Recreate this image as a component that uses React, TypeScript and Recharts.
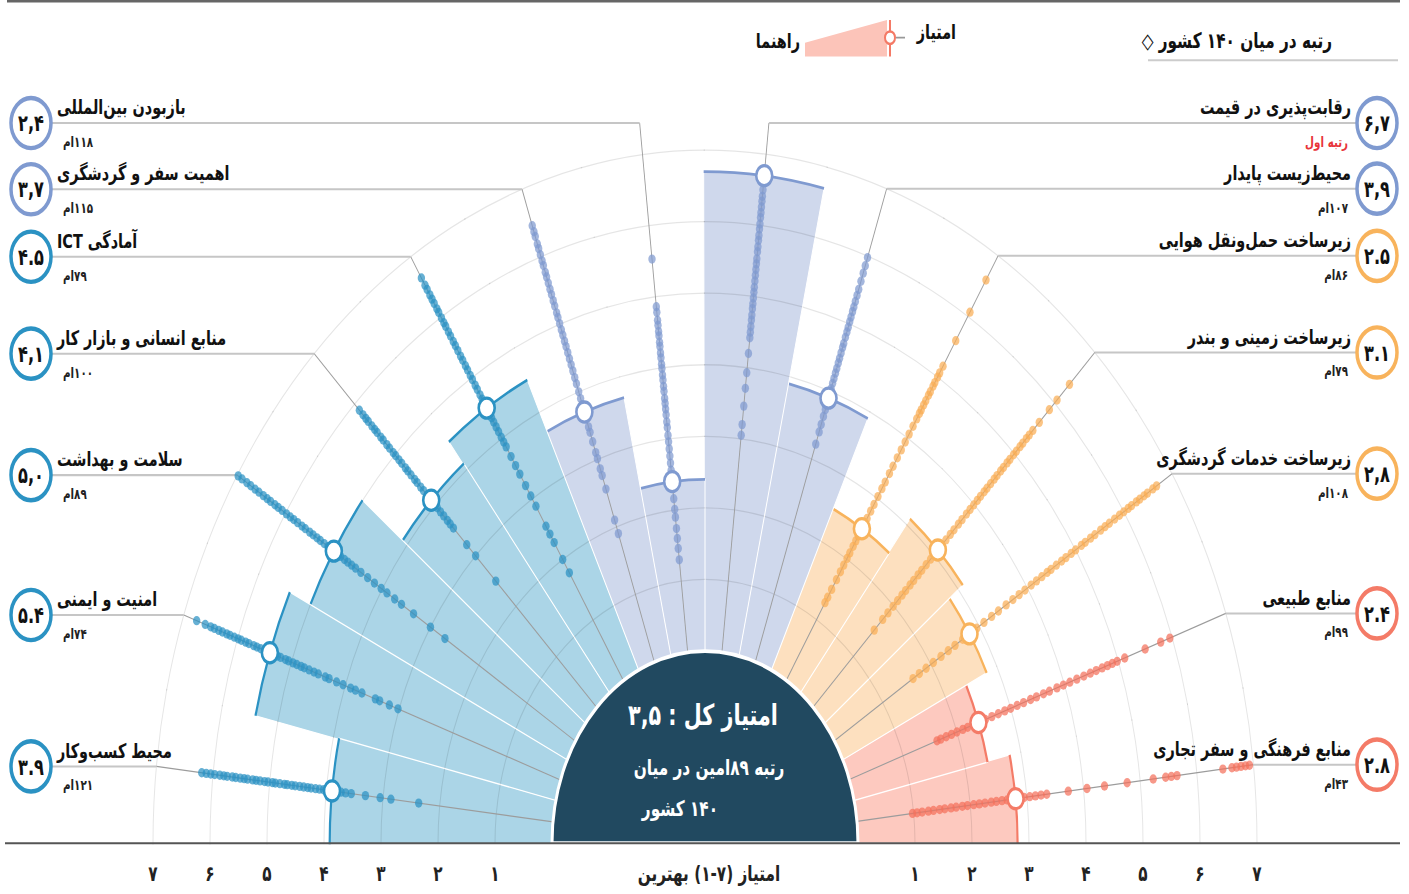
import { RadialBarChart, RadialBar, PolarAngleAxis, PolarRadiusAxis, Legend, Sector } from 'recharts';

// pillars from the bottom-left, going over the top to the bottom-right
const pillars = [
  'محیط کسب‌وکار', 'امنیت و ایمنی', 'سلامت و بهداشت', 'منابع انسانی و بازار کار', 'آمادگی ICT',
  'اهمیت سفر و گردشگری', 'بازبودن بین‌المللی', 'رقابت‌پذیری در قیمت', 'محیط‌زیست پایدار',
  'زیرساخت حمل‌ونقل هوایی', 'زیرساخت زمینی و بندر', 'زیرساخت خدمات گردشگری', 'منابع طبیعی',
  'منابع فرهنگی و سفر تجاری',
];
const scores = [3.9, 5.4, 5.0, 4.1, 4.5, 3.7, 2.4, 6.7, 3.9, 2.5, 3.1, 2.8, 2.4, 2.8];
const scoreText = ['۳.۹', '۵.۴', '۵,۰', '۴,۱', '۴.۵', '۳,۷', '۲,۴', '۶,۷', '۳,۹', '۲.۵', '۳.۱', '۲,۸', '۲.۴', '۲.۸'];
const rankText = ['۱۲۱ام', '۷۴ام', '۸۹ام', '۱۰۰ام', '۷۹ام', '۱۱۵ام', '۱۱۸ام', 'رتبه اول', '۱۰۷ام', '۸۶ام', '۷۹ام', '۱۰۸ام', '۹۹ام', '۴۳ام'];
const groups = ['env', 'env', 'env', 'env', 'env', 'pol', 'pol', 'pol', 'pol', 'inf', 'inf', 'inf', 'nat', 'nat'];

// scores of the other countries, one strip per pillar
const countryScores = [
  [6.2, 6.12, 6.04, 5.97, 5.88, 5.81, 5.75, 5.66, 5.6, 5.52, 5.45, 5.39, 5.3, 5.24, 5.17, 5.09, 5.03, 4.95, 4.9, 4.82, 4.74, 4.69, 4.61, 4.55, 4.47, 4.4, 4.33, 4.27, 4.19, 4.12, 4.05, 3.99, 3.8, 3.74, 3.66, 3.56, 3.31, 3.05, 2.86, 2.37],
  [6.76, 6.6, 6.5, 6.43, 6.35, 6.28, 6.2, 6.14, 6.06, 5.99, 5.93, 5.85, 5.79, 5.7, 5.64, 5.57, 5.5, 5.33, 5.26, 5.2, 5.11, 5.05, 4.97, 4.9, 4.82, 4.76, 4.67, 4.58, 4.5, 4.37, 4.3, 4.16, 4.04, 3.9, 3.81, 3.69, 3.44, 3.36, 3.18, 3.02],
  [6.98, 6.9, 6.8, 6.72, 6.63, 6.55, 6.46, 6.38, 6.31, 6.22, 6.15, 6.07, 5.98, 5.9, 5.83, 5.75, 5.66, 5.59, 5.5, 5.43, 5.35, 5.28, 5.2, 5.12, 5.05, 4.94, 4.86, 4.78, 4.71, 4.63, 4.55, 4.44, 4.3, 4.16, 4.02, 3.9, 3.74, 3.6, 3.35, 3.0, 2.7],
  [5.88, 5.79, 5.72, 5.66, 5.57, 5.5, 5.44, 5.35, 5.29, 5.2, 5.13, 5.04, 4.98, 4.9, 4.83, 4.74, 4.68, 4.6, 4.51, 4.45, 4.36, 4.29, 4.2, 4.02, 3.95, 3.87, 3.79, 3.7, 3.63, 3.55, 3.22, 3.0, 2.5],
  [6.65, 6.53, 6.46, 6.37, 6.3, 6.23, 6.14, 6.08, 5.99, 5.91, 5.85, 5.76, 5.69, 5.6, 5.53, 5.45, 5.36, 5.29, 5.2, 5.13, 5.04, 4.97, 4.88, 4.81, 4.72, 4.65, 4.57, 4.42, 4.34, 4.27, 4.19, 4.11, 4.02, 3.94, 3.86, 3.7, 3.55, 3.41, 3.22, 3.05, 2.88, 2.55, 2.42, 2.28, 2.0, 1.78],
  [6.46, 6.37, 6.3, 6.19, 6.12, 6.03, 5.94, 5.87, 5.77, 5.7, 5.61, 5.52, 5.44, 5.35, 5.27, 5.17, 5.1, 5.01, 4.92, 4.84, 4.75, 4.67, 4.58, 4.49, 4.4, 4.31, 4.21, 4.12, 4.0, 3.9, 3.81, 3.6, 3.48, 3.4, 3.26, 3.1, 3.01, 2.86, 2.76, 2.56, 2.1, 1.9],
  [5.53, 4.86, 4.78, 4.67, 4.6, 4.51, 4.45, 4.36, 4.3, 4.21, 4.14, 4.05, 3.99, 3.9, 3.83, 3.74, 3.67, 3.57, 3.5, 3.42, 3.34, 3.24, 3.16, 3.05, 2.96, 2.86, 2.76, 2.66, 2.56, 2.48, 2.3, 2.16, 2.01, 1.9, 1.74, 1.6, 1.46, 1.3],
  [6.5, 6.41, 6.34, 6.26, 6.18, 6.11, 6.02, 5.95, 5.86, 5.79, 5.7, 5.63, 5.53, 5.46, 5.38, 5.3, 5.22, 5.13, 5.06, 4.98, 4.9, 4.83, 4.74, 4.67, 4.58, 4.5, 4.42, 4.2, 3.93, 3.71, 3.46, 3.2, 3.05],
  [5.98, 5.86, 5.75, 5.63, 5.51, 5.42, 5.33, 5.25, 5.18, 5.1, 5.03, 4.95, 4.88, 4.8, 4.71, 4.65, 4.57, 4.49, 4.42, 4.34, 4.27, 4.19, 4.12, 4.04, 3.82, 3.73, 3.63, 3.51, 3.4, 3.22],
  [6.6, 6.07, 5.6, 5.18, 5.07, 5.0, 4.91, 4.85, 4.76, 4.7, 4.61, 4.54, 4.46, 4.4, 4.31, 4.19, 4.06, 3.93, 3.8, 3.67, 3.53, 3.41, 3.27, 3.16, 3.03, 2.9, 2.79, 2.67, 2.56, 2.38, 2.3, 2.21, 2.1, 2.01, 1.9, 1.79, 1.66, 1.5, 1.37, 1.28],
  [6.37, 6.06, 5.87, 5.62, 5.46, 5.37, 5.3, 5.21, 5.14, 5.05, 4.98, 4.89, 4.82, 4.73, 4.66, 4.57, 4.5, 4.41, 4.32, 4.25, 4.16, 4.08, 3.99, 3.9, 3.81, 3.7, 3.61, 3.5, 3.41, 3.3, 3.2, 3.01, 2.92, 2.81, 2.7, 2.61, 2.5, 2.41, 2.3, 2.21, 2.1, 1.99, 1.86, 1.73, 1.52],
  [6.68, 6.6, 6.49, 6.42, 6.33, 6.26, 6.16, 6.09, 6.0, 5.91, 5.81, 5.7, 5.61, 5.52, 5.4, 5.31, 5.2, 5.12, 5.0, 4.91, 4.8, 4.71, 4.6, 4.49, 4.41, 4.3, 4.19, 4.08, 3.95, 3.83, 3.7, 3.56, 3.4, 3.26, 3.1, 2.95, 2.66, 2.5, 2.36, 2.21, 2.05, 1.9, 1.76, 1.63],
  [5.96, 5.79, 5.5, 5.12, 4.98, 4.89, 4.8, 4.7, 4.59, 4.48, 4.36, 4.23, 4.1, 3.98, 3.86, 3.72, 3.61, 3.48, 3.37, 3.24, 3.12, 3.0, 2.89, 2.77, 2.65, 2.53, 2.31, 2.2, 2.11, 2.0, 1.9, 1.8, 1.7, 1.63],
  [6.93, 6.86, 6.78, 6.7, 6.62, 6.46, 5.65, 5.55, 5.45, 5.23, 4.77, 4.37, 4.06, 3.73, 3.35, 3.25, 3.15, 3.05, 2.95, 2.88, 2.65, 2.56, 2.46, 2.37, 2.26, 2.16, 2.06, 1.95, 1.86, 1.75, 1.66, 1.55, 1.46, 1.35, 1.26, 1.15, 1.06, 0.98],
];

const tickValues = [1, 2, 3, 4, 5, 6, 7];
const tickText = ['۱', '۲', '۳', '۴', '۵', '۶', '۷'];
const overallText = 'امتیاز کل : ۳,۵';
const overallRank = ['رتبه ۸۹امین در میان', '۱۴۰ کشور'];

// the angle axis runs 0° -> 180°, so the list is fed from the bottom-right end
const rows = pillars.map((name, i) => ({
  name,
  score: scores[i],
  scoreText: scoreText[i],
  rank: rankText[i],
  group: groups[i],
  countries: countryScores[i],
  last: i === 0,
})).reverse();

const PALETTE: Record<string, { fill: string; line: string; dot: string }> = {
  env: { fill: '#abd5e7', line: '#2b92c3', dot: '#2b92c3' },
  pol: { fill: '#cfd8ec', line: '#7f9ad0', dot: '#7f9ad0' },
  inf: { fill: '#fde0bf', line: '#f8b35c', dot: '#f9ad55' },
  nat: { fill: '#fdc9bf', line: '#f47b67', dot: '#f4705c' },
};

// the reference is drawn squeezed, then stretched vertically
const STRETCH = 1.2556;
const W = 1409;
const H = 712;
const CX = 705;
const CY = 671.5;
const R0 = 153;
const R7 = 552;
const TOP_ROW = 98;
// centric bars sit one band before their tick, so the angle range is pushed by one band
const STEP = 180 / pillars.length;
const FONT = '"DejaVu Sans Condensed", "DejaVu Sans", sans-serif';

const RAD = Math.PI / 180;
const polar = (cx: number, cy: number, r: number, a: number) => ({
  x: cx + r * Math.cos(-a * RAD),
  y: cy + r * Math.sin(-a * RAD),
});
const arcPath = (cx: number, cy: number, r: number, a0: number, a1: number) => {
  const p0 = polar(cx, cy, r, a0);
  const p1 = polar(cx, cy, r, a1);
  return `M${p0.x},${p0.y}A${r},${r},0,0,${a1 > a0 ? 0 : 1},${p1.x},${p1.y}`;
};

function FaText({ x, y, align = 'center', children, ...rest }: any) {
  const anchor = align === 'left' ? 'end' : align === 'right' ? 'start' : 'middle';
  return (
    <text x={x} y={y} textAnchor={anchor} direction="rtl" style={{ direction: 'rtl' }}
      fontFamily={FONT} fontWeight={700} {...rest}>
      {children}
    </text>
  );
}

function Core({ cx, cy, r }: { cx: number; cy: number; r: number }) {
  return (
    <g>
      <Sector cx={cx} cy={cy} innerRadius={0} outerRadius={r} startAngle={0} endAngle={180}
        fill="#214960" stroke="#fff" strokeWidth={3} />
      <line x1={5} x2={1400} y1={cy} y2={cy} stroke="#555" strokeWidth={1.6} />
      <FaText x={cx - 2} y={cy - 94} fontSize={23} fill="#fff">{overallText}</FaText>
      <FaText x={cx + 4} y={cy - 54} fontSize={17} fill="#fff">{overallRank[0]}</FaText>
      <FaText x={cx + 13} y={cy - 22} align="right" fontSize={17} fill="#fff">{overallRank[1]}</FaText>
      <FaText x={cx + 4} y={cy + 30} fontSize={17} fill="#222">امتیاز (۷-۱) بهترین</FaText>
    </g>
  );
}

function PillarShape(props: any) {
  const { cx, cy, innerRadius, outerRadius, startAngle, endAngle, payload } = props;
  const c = PALETTE[payload.group];
  const unit = (outerRadius - innerRadius) / payload.score;
  const rOf = (v: number) => innerRadius + unit * v;
  const mid = (startAngle + endAngle) / 2;
  const left = mid > 90;
  const nearTop = Math.abs(mid - 90) < 10;
  const edge = polar(cx, cy, rOf(7), mid);
  const rowY = nearTop ? TOP_ROW : edge.y;
  const bendR = nearTop ? (cy - TOP_ROW) / Math.sin(mid * RAD) : rOf(7);
  const bend = polar(cx, cy, bendR, mid);
  const foot = polar(cx, cy, innerRadius, mid);
  const mark = polar(cx, cy, outerRadius, mid);
  const badgeX = left ? 31 : 1377;
  const textX = left ? 57 : 1351;
  const isFirst = payload.rank === 'رتبه اول';

  return (
    <g>
      <Sector cx={cx} cy={cy} innerRadius={innerRadius} outerRadius={outerRadius}
        startAngle={startAngle} endAngle={endAngle} fill={c.fill} stroke="#fff" strokeWidth={1} />
      {tickValues.map(k => (
        <path key={k} d={arcPath(cx, cy, rOf(k), startAngle, endAngle)} fill="none"
          stroke="#000" strokeOpacity={0.1} strokeWidth={1} />
      ))}
      <path d={arcPath(cx, cy, outerRadius, startAngle, endAngle)} fill="none" stroke={c.line} strokeWidth={2.2} />
      <line x1={foot.x} y1={foot.y} x2={bend.x} y2={bend.y} stroke="#9c9c9c" strokeWidth={0.9} />
      <line x1={bend.x} y1={rowY} x2={left ? 52 : 1356} y2={rowY} stroke="#c6c6c6" strokeWidth={1.6} />
      {payload.countries.map((v: number, i: number) => {
        const p = polar(cx, cy, rOf(v), mid);
        return <circle key={i} cx={p.x} cy={p.y} r={3.7} fill={c.dot} fillOpacity={0.72} />;
      })}
      <circle cx={mark.x} cy={mark.y} r={8} fill="#fff" stroke={c.line} strokeWidth={2.6} />
      <circle cx={badgeX} cy={rowY} r={20} fill="#fff" stroke={c.line} strokeWidth={3.5} />
      <text x={badgeX} y={rowY + 6.5} textAnchor="middle" fontFamily={FONT} fontWeight={700}
        fontSize={18} fill="#111">{payload.scoreText}</text>
      <FaText x={textX} y={rowY - 7} align={left ? 'left' : 'right'} fontSize={16} fill="#111">
        {payload.name}
      </FaText>
      <FaText x={left ? 63 : 1348} y={rowY + 19} align={left ? 'left' : 'right'} fontSize={11.5}
        fill={isFirst ? '#e8343a' : '#222'}>
        {payload.rank}
      </FaText>
      {payload.last && <Core cx={cx} cy={cy} r={innerRadius} />}
    </g>
  );
}

function ScoreTick(props: any) {
  const { x, y, payload } = props;
  const i = tickValues.indexOf(payload.value);
  if (i < 0) return null;
  const centre = props.cx ?? CX;
  return (
    <g>
      <text x={x} y={y + 30} textAnchor="middle" fontFamily={FONT} fontWeight={700} fontSize={17} fill="#222">
        {tickText[i]}
      </text>
      <text x={2 * centre - x} y={y + 30} textAnchor="middle" fontFamily={FONT} fontWeight={700} fontSize={17} fill="#222">
        {tickText[i]}
      </text>
    </g>
  );
}

function LegendBox() {
  return (
    <svg width={W} height={60} style={{ display: 'block' }}>
      <line x1={7} x2={1400} y1={1} y2={1} stroke="#666" strokeWidth={2} />
      <FaText x={1332} y={38} align="right" fontSize={17} fill="#111">رتبه در میان ۱۴۰ کشور ◇</FaText>
      <line x1={1148} x2={1398} y1={48} y2={48} stroke="#ccc" strokeWidth={1.5} />
      <FaText x={956} y={31} align="right" fontSize={16} fill="#111">امتیاز</FaText>
      <line x1={896} x2={905} y1={30} y2={30} stroke="#999" strokeWidth={1.5} />
      <polygon points="805,34 887,16 887,45 805,45" fill="#fcc4b9" />
      <line x1={890} x2={890} y1={16} y2={45} stroke="#f47a66" strokeWidth={2} />
      <circle cx={890} cy={30} r={5} fill="#fff" stroke="#f47a66" strokeWidth={2} />
      <FaText x={800} y={38} align="right" fontSize={16} fill="#111">راهنما</FaText>
    </svg>
  );
}

export default function App() {
  return (
    <div style={{
      position: 'absolute', left: 0, top: 0, width: W, height: H, background: '#fff',
      transform: `scaleY(${STRETCH})`, transformOrigin: '0 0',
    }}>
      <RadialBarChart width={W} height={H} data={rows} cx={CX} cy={CY} innerRadius={R0} outerRadius={R7}
        startAngle={STEP} endAngle={180 + STEP} layout="centric" barCategoryGap={0} barGap={0}
        margin={{ top: 0, right: 0, bottom: 0, left: 0 }}>
        <PolarAngleAxis type="category" dataKey="name" tick={false} axisLine={false} tickLine={false} />
        <PolarRadiusAxis type="number" domain={[0, 7]} angle={180} ticks={tickValues}
          tick={(p: any) => <ScoreTick {...p} />} axisLine={false} tickLine={false} />
        <RadialBar dataKey="score" shape={PillarShape} isAnimationActive={false} />
        <Legend content={() => <LegendBox />} verticalAlign="top" align="left"
          wrapperStyle={{ left: 0, top: 0, width: W, height: 60 }} />
      </RadialBarChart>
    </div>
  );
}
